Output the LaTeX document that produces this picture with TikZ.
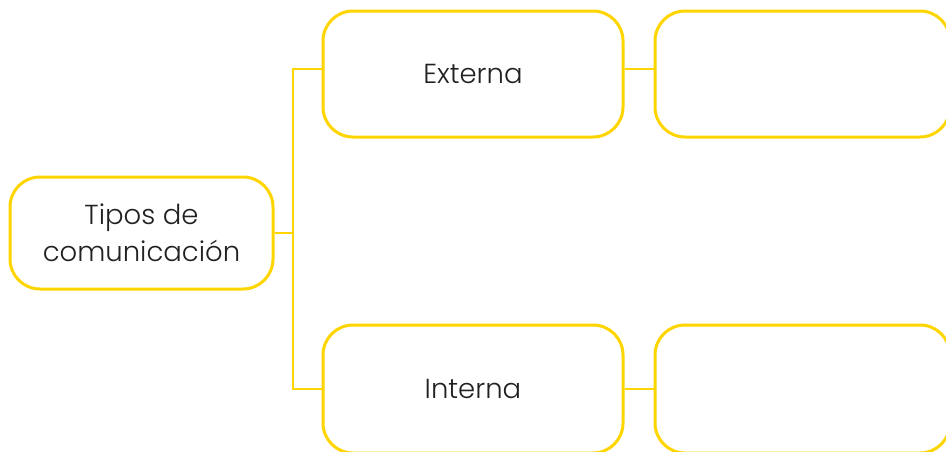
\documentclass[tikz,border=0pt]{standalone}
\usepackage{fontspec}
\setmainfont{Poppins}[UprightFont=* Light]
\usetikzlibrary{calc}
\definecolor{ylw}{HTML}{FFD500}
\definecolor{txt}{HTML}{222120}
\begin{document}
\begin{tikzpicture}[x=1pt,y=1pt,
  box/.style={draw=ylw,line width=3pt,rounded corners=30pt,fill=white,
    text=txt,align=center,inner sep=0pt,
    font=\fontsize{27.5}{37}\selectfont},
  link/.style={draw=ylw,line width=2.5pt}]
\useasboundingbox (0,0) rectangle (946,-451);
\fill[white] (0,0) rectangle (946,-451);
\node[box,minimum width=263pt,minimum height=112pt] (root) at (141.5,-233) {Tipos de\\comunicación};
\node[box,minimum width=300pt,minimum height=126pt] (ext) at (473,-74) {Externa};
\node[box,minimum width=295pt,minimum height=126pt] (extr) at (802.5,-74) {};
\node[box,minimum width=300pt,minimum height=128pt] (int) at (473,-389) {Interna};
\node[box,minimum width=295pt,minimum height=128pt] (intr) at (802.5,-389) {};
\coordinate (j) at (293,-233);
\coordinate (et) at ($(ext.west)+(0,5)$);
\coordinate (ert) at ($(extr.west)+(0,5)$);
\draw[link] (root.east) -- (j);
\draw[link] (j) |- (et);
\draw[link] (j) |- (int.west);
\draw[link] (ext.east|-et) -- (ert);
\draw[link] (int.east) -- (intr.west);
\end{tikzpicture}
\end{document}
